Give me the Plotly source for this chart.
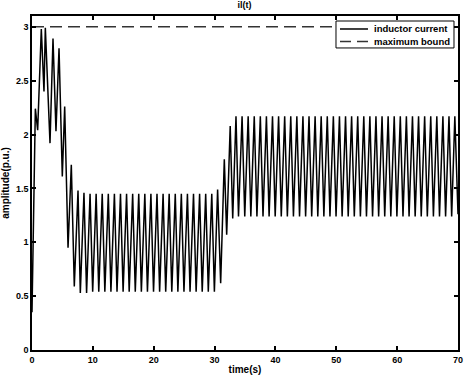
import plotly.graph_objects as go

# transient start-up
start_t = [0.0, 0.55, 0.93, 1.53, 1.97, 2.19, 2.96, 3.45, 3.94, 4.44, 4.98,
           5.37, 5.92, 6.46, 6.95, 7.56, 7.94]
start_y = [0.35, 2.24, 2.04, 2.98, 2.40, 2.99, 1.92, 2.89, 2.03, 2.80, 1.61,
           2.26, 0.95, 1.72, 0.59, 1.48, 0.53]

# low steady-state ripple (peak, trough pairs)
low_t = [8.54, 8.97, 9.54, 9.97, 10.54, 10.97, 11.54, 11.97, 12.54, 12.97,
         13.54, 13.97, 14.54, 14.97, 15.54, 15.97, 16.54, 16.97, 17.54, 17.97,
         18.54, 18.97, 19.54, 19.97, 20.54, 20.97, 21.54, 21.97, 22.54, 22.97,
         23.54, 23.97, 24.54, 24.97, 25.54, 25.97, 26.54, 26.97, 27.54, 27.97,
         28.54, 28.97, 29.54, 29.97]
low_y = [1.46, 0.53, 1.45, 0.54, 1.45, 0.54, 1.45, 0.54, 1.45, 0.54,
         1.45, 0.54, 1.45, 0.54, 1.45, 0.54, 1.45, 0.54, 1.45, 0.54,
         1.45, 0.54, 1.45, 0.54, 1.45, 0.54, 1.45, 0.54, 1.45, 0.54,
         1.45, 0.54, 1.45, 0.54, 1.45, 0.54, 1.45, 0.54, 1.45, 0.54,
         1.45, 0.54, 1.45, 0.54]

# step transition
step_t = [30.50, 31.00, 31.60, 31.99, 32.57, 32.98, 33.52, 33.93]
step_y = [1.49, 0.62, 1.77, 1.07, 2.08, 1.22, 2.17, 1.24]

# high steady-state ripple (peak, trough pairs)
high_t = [34.52, 34.96, 35.52, 35.96, 36.52, 36.96, 37.52, 37.96, 38.52, 38.96,
          39.52, 39.96, 40.52, 40.96, 41.52, 41.96, 42.52, 42.96, 43.52, 43.96,
          44.52, 44.96, 45.52, 45.96, 46.52, 46.96, 47.52, 47.96, 48.52, 48.96,
          49.52, 49.96, 50.52, 50.96, 51.52, 51.96, 52.52, 52.96, 53.52, 53.96,
          54.52, 54.96, 55.52, 55.96, 56.52, 56.96, 57.52, 57.96, 58.52, 58.96,
          59.52, 59.96, 60.52, 60.96, 61.52, 61.96, 62.52, 62.96, 63.52, 63.96,
          64.52, 64.96, 65.52, 65.96, 66.52, 66.96, 67.52, 67.96, 68.52, 68.96,
          69.48, 70.0]
high_y = [2.17, 1.24, 2.17, 1.24, 2.17, 1.24, 2.17, 1.24, 2.17, 1.24,
          2.17, 1.24, 2.17, 1.24, 2.17, 1.24, 2.17, 1.24, 2.17, 1.24,
          2.17, 1.24, 2.17, 1.24, 2.17, 1.24, 2.17, 1.24, 2.17, 1.24,
          2.17, 1.24, 2.17, 1.24, 2.17, 1.24, 2.17, 1.24, 2.17, 1.24,
          2.17, 1.24, 2.17, 1.24, 2.17, 1.24, 2.17, 1.24, 2.17, 1.24,
          2.17, 1.24, 2.17, 1.24, 2.17, 1.24, 2.17, 1.24, 2.17, 1.24,
          2.17, 1.24, 2.17, 1.24, 2.17, 1.24, 2.17, 1.24, 2.17, 1.24,
          2.17, 1.26]

bound_t = [0, 70]
bound_y = [3, 3]

x_ticks = [0, 10, 20, 30, 40, 50, 60, 70]
y_ticks = [0, 0.5, 1, 1.5, 2, 2.5, 3]
y_tick_labels = ["0", "0.5", "1", "1.5", "2", "2.5", "3"]

series_names = ["inductor current", "maximum bound"]

t = start_t + low_t + step_t + high_t
il = start_y + low_y + step_y + high_y

FONT = "Liberation Sans"
CUR_LINE = dict(color="black", width=1.5)
BOUND_LINE = dict(color="#333333", width=1.5, dash="12px,6px")

fig = go.Figure()
fig.add_trace(go.Scatter(x=t, y=il, mode="lines", name=series_names[0],
                         line=CUR_LINE, showlegend=False))
fig.add_trace(go.Scatter(x=bound_t, y=bound_y, mode="lines", name=series_names[1],
                         line=BOUND_LINE, showlegend=False))

# compact MATLAB-style legend box (paper coordinates)
lx0, lx1, ly0, ly1 = 0.7136, 0.9906, 0.9043, 0.985
sx0, sx1, tx = 0.7230, 0.7887, 0.7975
rows = [0.9611, 0.9238]
fig.add_shape(type="rect", xref="paper", yref="paper", x0=lx0, x1=lx1, y0=ly0, y1=ly1,
              fillcolor="white", line=dict(color="black", width=1), layer="above")
for i, (row, ln) in enumerate(zip(rows, [CUR_LINE, BOUND_LINE])):
    lstyle = dict(ln)
    if i == 1:
        lstyle["dash"] = "11px,6px"
    fig.add_shape(type="line", xref="paper", yref="paper", x0=sx0, x1=sx1, y0=row, y1=row,
                  line=lstyle, layer="above")
    fig.add_annotation(xref="paper", yref="paper", x=tx, y=row, xanchor="left",
                       yanchor="middle", text="<b>" + series_names[i] + "</b>",
                       showarrow=False,
                       font=dict(family=FONT, size=9.5, color="#000000"))

axis_common = dict(showgrid=False, zeroline=False, showline=True, linecolor="black",
                   linewidth=1.5, mirror="ticks", ticks="inside", ticklen=4,
                   tickcolor="black", tickwidth=1.5, automargin=False,
                   tickfont=dict(family=FONT, size=9, color="#000000", weight="bold"))

fig.update_layout(
    width=464, height=378,
    margin=dict(l=32, r=6, t=16, b=28),
    paper_bgcolor="white", plot_bgcolor="white",
    title=dict(text="<b>il(t)</b>", x=0.527, xanchor="center", y=0.995, yanchor="top",
               font=dict(family=FONT, size=9, color="#000000")),
    xaxis=dict(range=[0, 70], tickvals=x_ticks, ticklabeloverflow="allow",
               title=dict(text="<b>time(s)</b>", standoff=2,
                          font=dict(family=FONT, size=10, color="#000000")),
               **axis_common),
    yaxis=dict(range=[0, 3.1], tickvals=y_ticks, ticktext=y_tick_labels,
               title=dict(text="<b>amplitude(p.u.)</b>", standoff=4,
                          font=dict(family=FONT, size=10, color="#000000")),
               **axis_common),
    showlegend=False,
)

fig.write_html("out.html", config={"displayModeBar": False},
               post_script="document.body.style.margin='0';document.body.style.padding='0';")
